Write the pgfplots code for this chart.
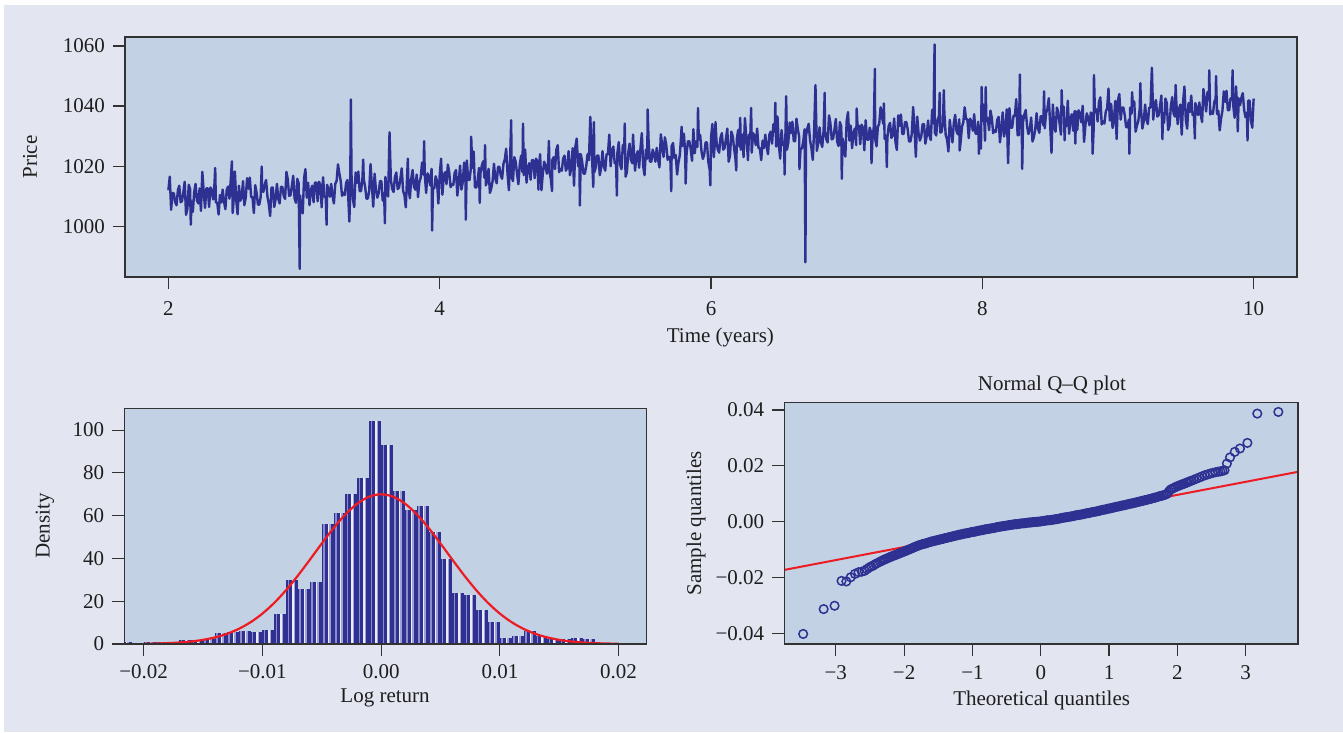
\documentclass[border=0pt]{standalone}
\usepackage{fontspec}
\setmainfont{Liberation Serif}
\usepackage{pgfplots}
\pgfplotsset{compat=1.18}
\usepackage{pgfplotstable}
\definecolor{bgl}{RGB}{227,230,241}
\definecolor{plotbg}{RGB}{194,209,227}
\definecolor{navy}{RGB}{46,49,146}
\definecolor{qred}{RGB}{237,28,36}
\definecolor{boxc}{RGB}{50,50,50}
\definecolor{txt}{RGB}{30,30,30}
\definecolor{sA}{RGB}{140,140,200}
\definecolor{sC}{RGB}{236,236,246}
\definecolor{sD}{RGB}{160,160,212}

\pgfplotstableread{
t p
2.00 1012.0
2.01 1016.5
2.02 1005.5
2.03 1011.0
2.04 1011.0
2.05 1008.0
2.06 1007.0
2.07 1012.0
2.08 1013.5
2.09 1008.0
2.10 1008.3
2.11 1011.3
2.12 1014.8
2.13 1003.8
2.14 1005.8
2.15 1013.8
2.16 1012.3
2.165 1000.5
2.17 1008.3
2.18 1004.8
2.19 1011.3
2.20 1014.1
2.21 1008.6
2.22 1007.6
2.23 1012.6
2.24 1005.1
2.25 1018.1
2.26 1011.6
2.27 1006.1
2.28 1012.6
2.29 1012.6
2.30 1006.4
2.31 1012.9
2.32 1011.9
2.33 1008.9
2.34 1014.4
2.345 1019.4
2.35 1007.9
2.36 1007.9
2.37 1003.9
2.38 1010.4
2.39 1007.9
2.40 1012.2
2.41 1008.2
2.42 1005.7
2.43 1012.2
2.44 1013.2
2.45 1009.2
2.46 1015.7
2.468 1021.6
2.474 1004.4
2.48 1008.2
2.49 1018.2
2.50 1008.5
2.51 1004.0
2.52 1013.5
2.53 1008.5
2.54 1009.5
2.55 1015.0
2.56 1007.0
2.57 1009.5
2.58 1016.0
2.59 1012.5
2.60 1016.2
2.61 1009.7
2.62 1009.7
2.63 1004.4
2.64 1013.7
2.65 1011.2
2.66 1007.2
2.67 1007.2
2.68 1009.7
2.688 1019.9
2.69 1013.7
2.70 1011.4
2.71 1013.9
2.72 1015.4
2.73 1009.9
2.74 1007.4
2.75 1003.4
2.76 1012.9
2.77 1012.9
2.78 1006.4
2.79 1008.9
2.80 1014.1
2.81 1009.1
2.82 1007.6
2.83 1013.1
2.84 1013.1
2.85 1010.1
2.86 1009.1
2.87 1018.1
2.88 1015.6
2.89 1010.1
2.90 1010.3
2.91 1013.3
2.92 1016.8
2.93 1009.3
2.94 1007.8
2.95 1015.8
2.96 1014.3
2.968 985.8
2.97 1010.3
2.98 1006.8
2.99 1004.3
3.00 1016.0
3.01 1019.0
3.02 1009.5
3.03 1014.5
3.04 1007.0
3.05 1012.0
3.06 1013.5
3.07 1008.0
3.08 1014.5
3.09 1014.5
3.10 1008.3
3.11 1014.8
3.12 1013.8
3.13 1006.3
3.14 1016.3
3.15 1009.8
3.16 1009.8
3.166 1000.5
3.17 1013.8
3.18 1012.3
3.19 1009.8
3.20 1014.1
3.21 1010.1
3.22 1007.6
3.23 1014.1
3.24 1015.1
3.25 1020.6
3.26 1017.6
3.27 1015.1
3.28 1010.1
3.29 1011.1
3.30 1010.4
3.31 1014.4
3.32 1015.4
3.334 1001.6
3.34 1011.4
3.345 1042.2
3.35 1016.9
3.36 1008.9
3.37 1006.4
3.38 1017.9
3.39 1014.4
3.40 1018.2
3.41 1011.7
3.42 1011.7
3.43 1015.7
3.436 1022.2
3.44 1015.7
3.45 1013.2
3.46 1009.2
3.47 1009.2
3.48 1011.7
3.49 1020.7
3.50 1013.5
3.51 1006.5
3.52 1017.5
3.53 1012.0
3.54 1009.5
3.55 1011.0
3.56 1015.0
3.57 1015.0
3.58 1008.5
3.59 1011.0
3.596 1001.0
3.60 1016.4
3.61 1011.4
3.62 1009.9
3.63 1031.3
3.64 1015.4
3.65 1012.4
3.66 1011.4
3.67 1016.4
3.68 1017.9
3.69 1012.4
3.70 1012.8
3.71 1015.8
3.72 1019.3
3.73 1011.8
3.74 1010.3
3.75 1006.3
3.76 1016.8
3.765 1022.5
3.77 1012.8
3.78 1009.3
3.79 1015.8
3.80 1018.7
3.81 1013.2
3.82 1012.2
3.83 1017.2
3.84 1009.7
3.85 1014.7
3.86 1016.2
3.87 1021.2
3.88 1017.2
3.885 1028.3
3.89 1017.2
3.90 1011.1
3.91 1017.6
3.92 1016.6
3.93 1013.6
3.94 1019.1
3.944 998.6
3.95 1012.6
3.96 1012.6
3.97 1016.6
3.98 1015.1
3.99 1007.6
4.00 1017.0
4.01 1022.5
4.02 1010.5
4.03 1017.0
4.04 1018.0
4.05 1014.0
4.06 1020.5
4.07 1018.0
4.08 1013.0
4.09 1014.0
4.10 1013.7
4.11 1017.7
4.12 1018.7
4.13 1010.2
4.14 1014.7
4.15 1020.2
4.16 1012.2
4.17 1014.7
4.18 1021.2
4.19 1017.7
4.192 1002.2
4.20 1021.9
4.21 1015.4
4.22 1015.4
4.23 1019.4
4.232 1029.8
4.24 1019.4
4.25 1024.9
4.26 1012.9
4.27 1012.9
4.28 1015.4
4.29 1019.4
4.295 1007.8
4.30 1017.6
4.31 1020.1
4.32 1021.6
4.33 1016.1
4.334 1027.0
4.34 1013.6
4.35 1015.1
4.36 1019.1
4.37 1011.1
4.38 1012.6
4.39 1015.1
4.40 1020.8
4.41 1015.8
4.42 1014.3
4.43 1019.8
4.44 1019.8
4.45 1016.8
4.46 1015.8
4.47 1020.8
4.48 1022.3
4.49 1025.8
4.50 1017.5
4.51 1012.0
4.52 1024.0
4.527 1035.3
4.53 1016.5
4.54 1015.0
4.55 1023.0
4.56 1021.5
4.57 1017.5
4.58 1014.0
4.59 1020.5
4.60 1023.5
4.61 1018.0
4.614 1034.2
4.62 1017.0
4.63 1025.5
4.64 1014.5
4.65 1019.5
4.66 1021.0
4.67 1015.5
4.68 1022.0
4.69 1022.0
4.70 1016.0
4.71 1022.5
4.72 1021.5
4.728 1012.2
4.73 1018.5
4.74 1024.0
4.75 1012.0
4.76 1017.5
4.77 1021.5
4.78 1020.0
4.79 1017.5
4.80 1022.0
4.805 1028.4
4.81 1018.0
4.82 1015.5
4.828 1011.7
4.83 1022.0
4.84 1023.0
4.85 1019.0
4.86 1025.5
4.87 1027.0
4.88 1018.0
4.89 1019.0
4.90 1018.5
4.91 1022.5
4.92 1023.5
4.93 1018.5
4.94 1019.5
4.95 1025.0
4.96 1017.0
4.97 1019.5
4.98 1026.0
4.99 1013.5
5.00 1026.5
5.01 1029.2
5.02 1020.0
5.03 1024.0
5.033 1006.9
5.04 1024.0
5.05 1021.5
5.06 1017.5
5.07 1017.5
5.08 1020.0
5.09 1024.0
5.10 1022.0
5.11 1036.4
5.12 1026.0
5.132 1013.1
5.137 1034.7
5.14 1018.0
5.15 1019.5
5.16 1023.5
5.17 1023.5
5.18 1017.0
5.19 1019.5
5.20 1025.0
5.21 1020.0
5.22 1018.5
5.23 1024.0
5.24 1024.0
5.25 1030.5
5.26 1020.0
5.27 1025.0
5.28 1026.5
5.29 1021.0
5.30 1021.5
5.306 1010.2
5.31 1024.5
5.32 1028.0
5.33 1020.5
5.34 1019.0
5.35 1027.0
5.36 1025.5
5.364 1034.2
5.37 1016.5
5.38 1018.0
5.39 1024.5
5.40 1027.5
5.41 1022.0
5.42 1021.0
5.425 1030.5
5.43 1026.0
5.44 1018.5
5.45 1023.5
5.46 1025.0
5.47 1019.5
5.48 1026.0
5.49 1031.0
5.50 1020.0
5.51 1017.0
5.52 1025.5
5.53 1022.5
5.533 1038.9
5.54 1028.0
5.55 1021.5
5.56 1021.5
5.57 1025.5
5.58 1024.0
5.59 1021.5
5.60 1026.1
5.61 1022.1
5.62 1019.6
5.63 1030.6
5.64 1027.1
5.65 1023.1
5.66 1029.6
5.67 1027.1
5.68 1022.1
5.69 1023.1
5.70 1022.7
5.707 1011.7
5.71 1026.7
5.72 1027.7
5.73 1022.7
5.74 1023.7
5.75 1017.2
5.76 1021.2
5.77 1023.7
5.78 1030.2
5.783 1033.1
5.79 1026.7
5.80 1030.8
5.81 1024.3
5.813 1014.2
5.82 1024.3
5.83 1028.3
5.84 1028.3
5.85 1025.8
5.86 1021.8
5.87 1032.3
5.88 1024.3
5.89 1028.3
5.90 1026.4
5.904 1039.3
5.91 1028.9
5.92 1030.4
5.93 1024.9
5.94 1022.4
5.95 1023.9
5.96 1027.9
5.97 1027.9
5.98 1021.4
5.99 1018.9
5.995 1013.6
6.00 1029.5
6.01 1034.0
6.02 1023.0
6.03 1028.5
6.033 1034.7
6.04 1028.5
6.05 1025.5
6.06 1024.5
6.07 1029.5
6.08 1031.0
6.09 1025.5
6.10 1026.0
6.11 1029.0
6.12 1032.5
6.13 1021.5
6.14 1023.5
6.15 1031.5
6.16 1030.0
6.17 1026.0
6.18 1022.5
6.186 1018.6
6.19 1029.0
6.20 1032.0
6.21 1026.5
6.215 1036.1
6.22 1025.5
6.23 1030.5
6.24 1023.0
6.25 1036.0
6.26 1029.5
6.27 1024.0
6.272 1022.0
6.28 1030.5
6.29 1030.5
6.296 1039.4
6.30 1024.5
6.31 1031.0
6.32 1030.0
6.33 1027.0
6.34 1032.5
6.35 1026.0
6.36 1026.0
6.37 1022.0
6.38 1028.5
6.39 1026.0
6.40 1030.5
6.41 1026.5
6.42 1024.0
6.43 1030.5
6.44 1031.5
6.45 1027.5
6.46 1034.0
6.47 1031.5
6.474 1041.1
6.48 1026.5
6.49 1036.5
6.50 1027.0
6.51 1022.5
6.52 1032.0
6.53 1027.0
6.54 1028.0
6.542 1017.2
6.55 1033.5
6.554 1043.3
6.56 1025.5
6.57 1028.0
6.58 1034.5
6.59 1031.0
6.60 1034.8
6.61 1028.3
6.62 1028.3
6.63 1035.8
6.64 1032.3
6.65 1029.8
6.652 1019.0
6.66 1025.8
6.67 1025.8
6.68 1028.3
6.69 1032.3
6.696 988.0
6.70 1030.1
6.71 1032.6
6.72 1034.1
6.73 1028.6
6.74 1026.1
6.75 1022.1
6.76 1031.6
6.77 1047.0
6.78 1025.1
6.79 1027.6
6.80 1032.9
6.81 1027.9
6.82 1026.4
6.83 1031.9
6.838 1044.4
6.84 1031.9
6.85 1028.9
6.86 1027.9
6.87 1036.9
6.88 1034.4
6.89 1028.9
6.90 1029.2
6.91 1032.2
6.92 1035.7
6.93 1028.2
6.94 1026.7
6.95 1034.7
6.96 1033.2
6.964 1015.8
6.97 1029.2
6.98 1025.7
6.99 1023.2
7.00 1035.0
7.01 1038.0
7.02 1028.5
7.03 1033.5
7.04 1026.0
7.05 1031.0
7.06 1032.5
7.07 1027.0
7.074 1039.2
7.08 1033.5
7.09 1033.5
7.10 1027.3
7.11 1033.8
7.12 1032.8
7.13 1025.3
7.14 1035.3
7.15 1028.8
7.16 1028.8
7.17 1032.8
7.18 1031.3
7.183 1021.0
7.19 1028.8
7.20 1033.1
7.208 1052.4
7.21 1029.1
7.22 1026.6
7.23 1033.1
7.24 1034.1
7.25 1039.6
7.26 1036.6
7.27 1034.1
7.274 1040.9
7.28 1029.1
7.29 1030.1
7.296 1019.7
7.30 1029.4
7.31 1033.4
7.32 1034.4
7.33 1029.4
7.34 1030.4
7.35 1035.9
7.36 1027.9
7.37 1025.4
7.38 1036.9
7.39 1033.4
7.40 1037.2
7.41 1030.7
7.42 1030.7
7.43 1034.7
7.44 1034.7
7.45 1032.2
7.46 1028.2
7.47 1028.2
7.48 1030.7
7.49 1039.7
7.50 1032.5
7.51 1023.1
7.52 1036.5
7.53 1031.0
7.54 1028.5
7.55 1030.0
7.56 1034.0
7.57 1034.0
7.58 1027.5
7.59 1030.0
7.60 1035.2
7.61 1030.2
7.62 1028.7
7.63 1038.7
7.64 1034.2
7.648 1060.5
7.65 1031.2
7.66 1030.2
7.67 1035.2
7.68 1036.7
7.686 1044.4
7.69 1031.2
7.70 1031.4
7.71 1034.4
7.716 1045.3
7.72 1037.9
7.73 1030.4
7.74 1028.9
7.75 1024.9
7.76 1035.4
7.77 1031.4
7.78 1027.9
7.79 1034.4
7.80 1037.1
7.81 1031.6
7.82 1030.6
7.83 1035.6
7.833 1025.2
7.84 1028.1
7.85 1033.1
7.86 1034.6
7.87 1039.6
7.88 1035.6
7.89 1035.6
7.90 1029.3
7.91 1035.8
7.92 1034.8
7.93 1031.8
7.94 1037.3
7.95 1030.8
7.96 1030.8
7.97 1034.8
7.975 1024.1
7.98 1033.3
7.99 1025.8
7.995 1046.4
8.00 1035.0
8.01 1040.5
8.02 1028.5
8.025 1046.3
8.03 1035.0
8.04 1036.0
8.05 1032.0
8.06 1038.5
8.07 1036.0
8.08 1031.0
8.09 1032.0
8.10 1031.4
8.11 1035.4
8.12 1036.4
8.13 1027.9
8.14 1032.4
8.15 1037.9
8.16 1029.9
8.17 1032.4
8.18 1038.9
8.19 1021.0
8.20 1039.3
8.21 1032.8
8.22 1032.8
8.23 1036.8
8.24 1036.8
8.25 1042.3
8.26 1030.3
8.27 1030.3
8.277 1050.5
8.28 1032.8
8.29 1036.8
8.294 1019.1
8.30 1034.7
8.31 1037.2
8.32 1038.7
8.33 1033.2
8.34 1030.7
8.35 1032.2
8.36 1036.2
8.37 1028.2
8.38 1029.7
8.39 1032.2
8.40 1037.6
8.41 1032.6
8.42 1031.1
8.43 1036.6
8.44 1036.6
8.45 1033.6
8.455 1044.9
8.46 1032.6
8.47 1037.6
8.48 1039.1
8.49 1042.6
8.50 1034.0
8.51 1024.4
8.52 1040.5
8.53 1033.0
8.54 1031.5
8.55 1039.5
8.56 1038.0
8.57 1034.0
8.58 1030.5
8.585 1045.3
8.59 1037.0
8.60 1039.8
8.607 1028.6
8.61 1034.3
8.62 1033.3
8.63 1041.8
8.64 1030.8
8.65 1035.8
8.66 1037.3
8.67 1031.8
8.68 1038.3
8.686 1027.5
8.69 1038.3
8.70 1032.1
8.71 1038.6
8.72 1037.6
8.73 1034.6
8.74 1040.1
8.75 1028.1
8.76 1033.6
8.77 1037.6
8.78 1036.1
8.79 1033.6
8.80 1037.9
8.81 1033.9
8.813 1024.1
8.82 1031.4
8.823 1050.3
8.83 1037.9
8.84 1038.9
8.85 1034.9
8.86 1041.4
8.87 1042.9
8.88 1033.9
8.89 1034.9
8.90 1034.2
8.91 1038.2
8.92 1039.2
8.93 1045.8
8.94 1035.2
8.95 1040.7
8.96 1032.7
8.97 1035.2
8.98 1041.7
8.99 1029.0
9.00 1042.0
9.01 1044.0
9.02 1035.5
9.03 1039.5
9.04 1039.5
9.05 1037.0
9.06 1033.0
9.07 1033.0
9.08 1035.5
9.084 1024.1
9.09 1039.5
9.10 1037.5
9.104 1044.6
9.11 1040.0
9.12 1041.5
9.13 1031.5
9.14 1033.5
9.15 1035.0
9.16 1039.0
9.165 1047.6
9.17 1039.0
9.18 1032.5
9.19 1035.0
9.20 1040.5
9.21 1035.5
9.22 1034.0
9.23 1039.5
9.24 1039.5
9.25 1052.8
9.26 1035.5
9.27 1040.5
9.28 1042.0
9.29 1036.5
9.30 1037.0
9.31 1040.0
9.32 1043.5
9.328 1029.0
9.33 1036.0
9.34 1034.5
9.35 1042.5
9.36 1041.0
9.37 1032.0
9.38 1033.5
9.39 1040.0
9.40 1043.0
9.41 1037.5
9.42 1036.5
9.425 1047.0
9.43 1041.5
9.44 1034.0
9.45 1039.0
9.46 1040.5
9.47 1030.5
9.48 1041.5
9.49 1046.5
9.50 1035.5
9.51 1032.5
9.52 1041.0
9.53 1038.0
9.54 1043.5
9.55 1037.0
9.56 1037.0
9.567 1029.2
9.57 1041.0
9.58 1039.5
9.59 1037.0
9.60 1041.2
9.61 1037.2
9.62 1034.7
9.63 1045.7
9.64 1042.2
9.65 1038.2
9.66 1044.7
9.67 1042.2
9.673 1051.9
9.68 1037.2
9.69 1038.2
9.70 1037.4
9.71 1041.4
9.72 1042.4
9.723 1050.0
9.73 1037.4
9.74 1038.4
9.75 1031.9
9.76 1035.9
9.77 1038.4
9.78 1044.9
9.79 1041.4
9.80 1045.1
9.81 1038.6
9.82 1038.6
9.83 1042.6
9.84 1042.6
9.845 1051.9
9.85 1040.1
9.86 1036.1
9.87 1046.6
9.88 1038.6
9.883 1031.6
9.89 1042.6
9.90 1040.3
9.91 1042.8
9.92 1044.3
9.93 1038.8
9.94 1036.3
9.95 1037.8
9.955 1028.6
9.96 1041.8
9.97 1041.8
9.98 1035.3
9.99 1032.8
10.00 1042.5
}\pricetable

\pgfplotstableread{
x d
-0.0215 1.1
-0.0205 0
-0.0195 1.0
-0.0185 0.8
-0.0175 0.8
-0.0165 1.9
-0.0155 1.9
-0.0145 2.3
-0.0135 5.2
-0.0125 5.5
-0.0115 6.3
-0.0105 5.8
-0.0095 6.7
-0.0085 13.8
-0.0075 29.7
-0.0065 25.5
-0.0055 29.2
-0.0045 56.3
-0.0035 61.4
-0.0025 70.0
-0.0015 77.5
-0.0005 104.2
0.0005 93.0
0.0015 71.4
0.0025 62.5
0.0035 64.4
0.0045 52.2
0.0055 39.8
0.0065 23.9
0.0075 22.9
0.0085 16.0
0.0095 10.5
0.0105 2.9
0.0115 3.75
0.0125 6.2
0.0135 3.9
0.0145 2.2
0.0155 2.2
0.0165 3.0
0.0175 2.3
0.0185 0.4
0.0195 0.4
0.0205 0
0.0215 0.5
}\histtable

\pgfplotstableread{
x f
-0.020 0.12
-0.019 0.22
-0.018 0.40
-0.017 0.70
-0.016 1.18
-0.015 1.94
-0.014 3.08
-0.013 4.73
-0.012 7.05
-0.011 10.17
-0.010 14.21
-0.009 19.24
-0.008 25.23
-0.007 32.05
-0.006 39.43
-0.005 46.99
-0.004 54.24
-0.003 60.64
-0.002 65.67
-0.001 68.89
0.000 70.00
0.001 68.89
0.002 65.67
0.003 60.64
0.004 54.24
0.005 46.99
0.006 39.43
0.007 32.05
0.008 25.23
0.009 19.24
0.010 14.21
0.011 10.17
0.012 7.05
0.013 4.73
0.014 3.08
0.015 1.94
0.016 1.18
0.017 0.70
0.018 0.40
0.019 0.22
0.020 0.12
}\normtable

\pgfplotstableread{
x y
-3.478 -0.0402
-3.178 -0.0313
-3.018 -0.0301
-2.916 -0.0212
-2.846 -0.0214
-2.782 -0.0199
-2.72 -0.0187
-2.667 -0.0181
-2.62 -0.0179
-2.58 -0.0176
-2.545 -0.0170
-2.51 -0.0164
-2.48 -0.0160
-2.45 -0.0157
-2.42 -0.0152
-2.39 -0.0148
-2.35 -0.0143
-2.325 -0.0140
-2.3 -0.0137
-2.275 -0.0134
-2.25 -0.0132
-2.225 -0.0129
-2.2 -0.0126
-2.175 -0.0124
-2.15 -0.0121
-2.125 -0.0119
-2.1 -0.0117
-2.075 -0.0114
-2.05 -0.0112
-2.025 -0.0109
-2.0 -0.0107
-1.975 -0.0104
-1.95 -0.0102
-1.925 -0.0099
-1.9 -0.0097
-1.875 -0.0094
-1.85 -0.0091
-1.825 -0.0089
-1.8 -0.0086
-1.775 -0.0084
-1.75 -0.0082
-1.725 -0.0080
-1.7 -0.0079
-1.675 -0.0077
-1.65 -0.0075
-1.625 -0.0073
-1.6 -0.0071
-1.575 -0.0070
-1.55 -0.0068
-1.525 -0.0067
-1.5 -0.0065
-1.475 -0.0064
-1.45 -0.0062
-1.425 -0.0061
-1.4 -0.0059
-1.375 -0.0058
-1.35 -0.0056
-1.325 -0.0055
-1.3 -0.0053
-1.275 -0.0052
-1.25 -0.0050
-1.225 -0.0049
-1.2 -0.0047
-1.175 -0.0046
-1.15 -0.0045
-1.125 -0.0043
-1.1 -0.0042
-1.075 -0.0041
-1.05 -0.0040
-1.025 -0.0038
-1.0 -0.0037
-0.975 -0.0036
-0.95 -0.0035
-0.925 -0.0033
-0.9 -0.0032
-0.875 -0.0031
-0.85 -0.0030
-0.825 -0.0028
-0.8 -0.0027
-0.775 -0.0026
-0.75 -0.0025
-0.725 -0.0024
-0.7 -0.0023
-0.675 -0.0022
-0.65 -0.0020
-0.625 -0.0019
-0.6 -0.0018
-0.575 -0.0017
-0.55 -0.0016
-0.525 -0.0015
-0.5 -0.0014
-0.475 -0.0013
-0.45 -0.0012
-0.425 -0.0011
-0.4 -0.0010
-0.375 -0.0009
-0.35 -0.0009
-0.325 -0.0008
-0.3 -0.0007
-0.275 -0.0006
-0.25 -0.0006
-0.225 -0.0005
-0.2 -0.0004
-0.175 -0.0003
-0.15 -0.0003
-0.125 -0.0002
-0.1 -0.0001
-0.075 -0.0001
-0.05 0.0000
-0.025 0.0000
0 0.0001
0.025 0.0002
0.05 0.0003
0.075 0.0004
0.1 0.0005
0.125 0.0005
0.15 0.0006
0.175 0.0007
0.2 0.0008
0.225 0.0009
0.25 0.0010
0.275 0.0011
0.3 0.0013
0.325 0.0014
0.35 0.0015
0.375 0.0016
0.4 0.0017
0.425 0.0018
0.45 0.0019
0.475 0.0020
0.5 0.0022
0.525 0.0023
0.55 0.0024
0.575 0.0025
0.6 0.0026
0.625 0.0027
0.65 0.0029
0.675 0.0030
0.7 0.0031
0.725 0.0032
0.75 0.0034
0.775 0.0035
0.8 0.0036
0.825 0.0037
0.85 0.0039
0.875 0.0040
0.9 0.0042
0.925 0.0043
0.95 0.0044
0.975 0.0046
1.0 0.0047
1.025 0.0048
1.05 0.0050
1.075 0.0051
1.1 0.0053
1.125 0.0054
1.15 0.0055
1.175 0.0057
1.2 0.0058
1.225 0.0059
1.25 0.0061
1.275 0.0062
1.3 0.0064
1.325 0.0065
1.35 0.0066
1.375 0.0068
1.4 0.0069
1.425 0.0071
1.45 0.0072
1.475 0.0074
1.5 0.0075
1.525 0.0077
1.55 0.0078
1.575 0.0080
1.6 0.0081
1.625 0.0083
1.65 0.0085
1.675 0.0086
1.7 0.0088
1.725 0.0090
1.75 0.0092
1.775 0.0093
1.8 0.0095
1.825 0.0097
1.85 0.0100
1.875 0.0108
1.9 0.0115
1.925 0.0118
1.95 0.0121
1.975 0.0124
2.0 0.0127
2.025 0.0129
2.05 0.0132
2.075 0.0134
2.1 0.0136
2.125 0.0139
2.15 0.0141
2.175 0.0144
2.2 0.0146
2.24 0.0150
2.28 0.0154
2.32 0.0158
2.36 0.0162
2.4 0.0166
2.44 0.0169
2.48 0.0172
2.52 0.0175
2.56 0.0177
2.60 0.0179
2.63 0.0180
2.66 0.0182
2.69 0.0184
2.725 0.0208
2.77 0.0230
2.84 0.0250
2.916 0.0262
3.025 0.0282
3.17 0.0387
3.478 0.0393
}\qqtable

\pgfplotsset{
  base/.style={
    scale only axis,
    axis background/.style={fill=plotbg},
    axis line style={draw=boxc, line width=1.3pt},
    tick style={draw=boxc, line width=1.2pt},
    tick align=outside,
    major tick length=12pt,
    xtick pos=left, ytick pos=left,
    tick label style={font=\fontsize{21}{25}\selectfont, text=txt, inner sep=0pt},
    label style={font=\fontsize{21}{25}\selectfont, text=txt, inner sep=0pt},
    title style={font=\fontsize{21}{25}\selectfont, text=txt, inner sep=0pt},
    axis on top,
    scaled ticks=false,
    yticklabel shift=8pt,
  },
}

\begin{document}
\begin{tikzpicture}[x=1pt,y=1pt]
\fill[bgl] (0,0) rectangle (1343,732);
\fill[white] (0,727) rectangle (1343,732);
\fill[white] (0,0) rectangle (4,732);

% Top: price series
\begin{axis}[base,
  at={(125pt,455pt)}, anchor=south west,
  width=1172pt, height=240pt,
  xmin=1.68, xmax=10.32, ymin=983.1, ymax=1063,
  xtick={2,4,6,8,10}, xticklabels={2,4,6,8,10},
  ytick={1000,1020,1040,1060}, yticklabels={1000,1020,1040,1060},
  xticklabel shift=12pt,
  xlabel={Time (years)}, ylabel={Price},
  xlabel style={at={(axis description cs:0.508,-0.25)}, anchor=center},
  ylabel style={at={(axis description cs:-0.081,0.5)}, anchor=center},
]
\addplot[navy, line width=2.4pt, line join=round] table[x=t,y=p]{\pricetable};
\end{axis}

% Bottom left: histogram
\begin{axis}[base,
  at={(124.3pt,88pt)}, anchor=south west,
  width=522.1pt, height=235.7pt,
  xmin=-0.02163, xmax=0.02234, ymin=0, ymax=110.2,
  xtick={-0.02,-0.01,0,0.01,0.02}, xticklabels={−0.02,−0.01,0.00,0.01,0.02},
  ytick={0,20,40,60,80,100}, yticklabels={0,20,40,60,80,100},
  xticklabel shift=8.5pt,
  xlabel={Log return}, ylabel={Density},
  xlabel style={at={(axis description cs:0.4995,-0.229)}, anchor=center},
  ylabel style={at={(axis description cs:-0.152,0.5)}, anchor=center},
]
\addplot[ycomb, draw=navy, line width=1.5pt, xshift=-5.25pt] table[x=x,y=d]{\histtable};
\addplot[ycomb, draw=sA, line width=1.5pt, xshift=-3.75pt] table[x=x,y=d]{\histtable};
\addplot[ycomb, draw=navy, line width=1.5pt, xshift=-2.25pt] table[x=x,y=d]{\histtable};
\addplot[ycomb, draw=navy, line width=1.5pt, xshift=-0.75pt] table[x=x,y=d]{\histtable};
\addplot[ycomb, draw=sC, line width=1.5pt, xshift=0.75pt] table[x=x,y=d]{\histtable};
\addplot[ycomb, draw=sD, line width=1.5pt, xshift=2.25pt] table[x=x,y=d]{\histtable};
\addplot[ycomb, draw=navy, line width=1.5pt, xshift=3.75pt] table[x=x,y=d]{\histtable};
\addplot[ycomb, draw=navy, line width=1.5pt, xshift=5.25pt] table[x=x,y=d]{\histtable};
\addplot[qred, line width=2.2pt, smooth] table[x=x,y=f]{\normtable};
\end{axis}

% Bottom right: QQ plot
\begin{axis}[base,
  at={(784.3pt,88pt)}, anchor=south west,
  width=513.7pt, height=241.3pt,
  xmin=-3.754, xmax=3.766, ymin=-0.0438, ymax=0.0426,
  xtick={-3,-2,-1,0,1,2,3}, xticklabels={−3,−2,−1,0,1,2,3},
  ytick={-0.04,-0.02,0,0.02,0.04}, yticklabels={−0.04,−0.02,0.00,0.02,0.04},
  xticklabel shift=9pt,
  title={Normal Q–Q plot},
  title style={at={(axis description cs:0.521,1.045)}, anchor=center},
  xlabel={Theoretical quantiles}, ylabel={Sample quantiles},
  xlabel style={at={(axis description cs:0.501,-0.232)}, anchor=center},
  ylabel style={at={(axis description cs:-0.172,0.5)}, anchor=center},
]
\addplot[qred, line width=2pt] coordinates {(-3.754,-0.01727) (3.766,0.01785)};
\addplot[only marks, mark=o, mark size=4.3pt, mark options={draw=navy, line width=1.5pt}] table[x=x,y=y]{\qqtable};
\end{axis}
\end{tikzpicture}
\end{document}
